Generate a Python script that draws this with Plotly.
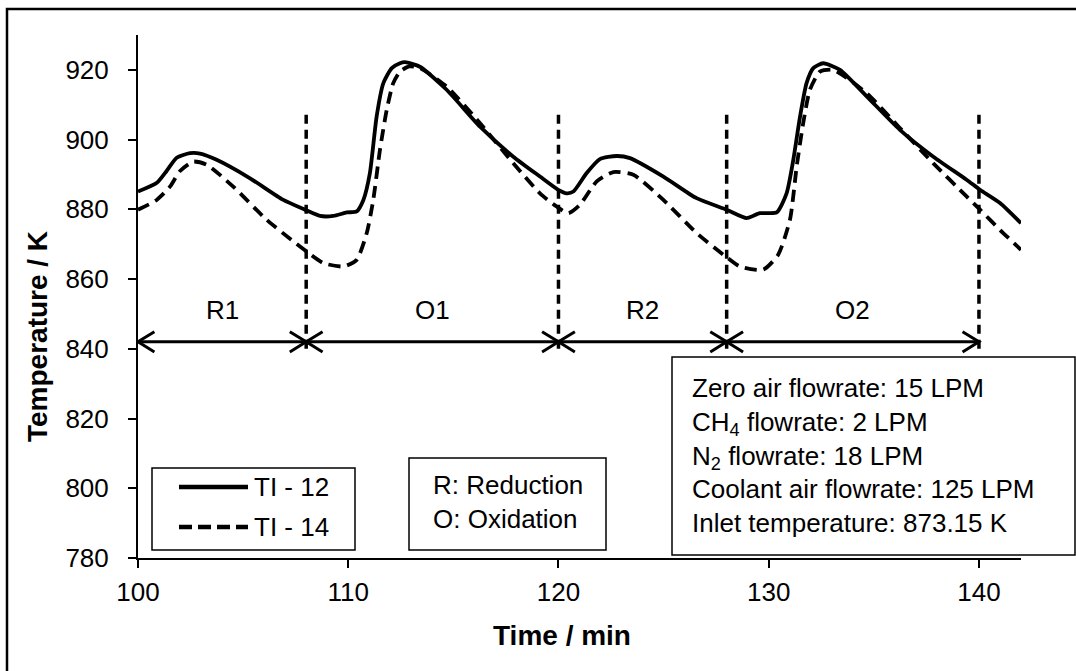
import plotly.graph_objects as go

# ---------------- data ----------------
time_ti12 = [100.0, 100.9, 101.36, 101.84, 102.47, 102.95, 103.74, 105.33, 106.91, 107.94,
             108.66, 109.29, 109.93, 110.40, 110.72, 111.03, 111.35, 111.67, 112.07, 112.46,
             112.70, 113.41, 114.68, 116.27, 117.85, 119.12, 119.99, 120.39, 120.71, 121.34,
             121.97, 122.77, 123.40, 124.99, 126.57, 128.0, 128.95, 129.58, 130.38, 130.85,
             131.17, 131.49, 131.80, 132.12, 132.59, 133.39, 134.66, 136.24, 137.83, 139.41,
             140.05, 141.0, 142.0]
temp_ti12 = [885.1, 887.6, 891.0, 894.8, 896.1, 896.0, 894.2, 888.9, 882.7, 879.9,
             878.1, 878.1, 879.1, 879.4, 882.7, 890.4, 906.6, 916.2, 920.5, 921.9,
             922.2, 920.9, 914.3, 903.7, 895.1, 889.4, 885.6, 884.6, 885.1, 890.4,
             894.4, 895.3, 894.7, 889.4, 883.2, 879.9, 877.5, 878.9, 879.1, 884.6,
             894.2, 906.6, 916.2, 920.5, 921.9, 920.0, 912.4, 902.8, 895.1, 888.5,
             885.6, 881.8, 876.0]

time_ti14 = [100.0, 100.89, 101.52, 102.0, 102.63, 103.27, 104.53, 106.12, 107.39, 108.02,
             108.81, 109.77, 110.40, 110.88, 111.19, 111.51, 111.83, 112.14, 112.46, 112.9,
             113.41, 114.68, 116.27, 117.85, 119.12, 119.91, 120.47, 121.02, 121.82, 122.61,
             123.56, 124.99, 126.57, 127.84, 128.63, 129.74, 130.45, 131.01, 131.33, 131.64,
             131.96, 132.44, 133.07, 134.66, 136.24, 137.83, 139.41, 140.05, 141.0, 142.0]
temp_ti14 = [879.9, 882.7, 886.5, 891.0, 893.7, 892.8, 886.5, 877.0, 870.8, 867.9,
             864.6, 863.6, 865.5, 873.2, 882.7, 897.1, 908.5, 916.2, 919.5, 921.0,
             920.5, 915.2, 904.7, 893.2, 884.6, 880.8, 878.9, 881.3, 888.0, 890.7,
             889.9, 882.7, 873.2, 867.0, 863.6, 862.7, 867.0, 877.0, 892.3, 904.7,
             914.3, 919.5, 920.0, 913.3, 903.3, 893.2, 883.7, 879.9, 874.1, 868.4]

phase_bounds = [100, 108, 120, 128, 140]
phase_labels = ["R1", "O1", "R2", "O2"]
series_names = ["TI - 12", "TI - 14"]
x_ticks = [100, 110, 120, 130, 140]
y_ticks = [780, 800, 820, 840, 860, 880, 900, 920]
conditions = ["Zero air flowrate: 15 LPM",
              "CH<sub>4</sub> flowrate: 2 LPM",
              "N<sub>2</sub> flowrate: 18 LPM",
              "Coolant air flowrate: 125 LPM",
              "Inlet temperature: 873.15 K"]
phase_key = ["R: Reduction", "O: Oxidation"]

# ---------------- layout constants ----------------
W, H = 1076, 671
ML, MR, MT, MB = 138, 55, 35, 113
PW, PH = W - ML - MR, H - MT - MB
X_RANGE = [100, 142]
Y_RANGE = [780, 930]
FONT = "Liberation Sans, Arial, sans-serif"
ARROW_Y = 842
LABEL_Y = 851
VLINE_Y = [840, 908]
HEAD_DX = 0.78   # chevron length in minutes
HEAD_DY = 2.9    # chevron half-height in K


def px(xp):
    return (xp - ML) / PW


def py(yp):
    return (H - MB - yp) / PH


fig = go.Figure()

# curves
fig.add_trace(go.Scatter(x=time_ti12, y=temp_ti12, mode="lines", name=series_names[0],
                         line=dict(color="black", width=3.8, shape="spline", smoothing=0.6),
                         showlegend=False))
fig.add_trace(go.Scatter(x=time_ti14, y=temp_ti14, mode="lines", name=series_names[1],
                         line=dict(color="black", width=3.8, dash="12px,7px",
                                   shape="spline", smoothing=0.6),
                         showlegend=False))

# phase boundaries (dashed verticals)
vx, vy = [], []
for b in phase_bounds[1:]:
    vx += [b, b, None]
    vy += [VLINE_Y[0], VLINE_Y[1], None]
fig.add_trace(go.Scatter(x=vx, y=vy, mode="lines", showlegend=False, hoverinfo="skip",
                         line=dict(color="black", width=3.5, dash="9px,6px")))

# double-headed arrows with open chevrons
ax, ay = [], []
for x0, x1 in zip(phase_bounds[:-1], phase_bounds[1:]):
    ax += [x0, x1, None]
    ay += [ARROW_Y, ARROW_Y, None]
    ax += [x0 + HEAD_DX, x0, x0 + HEAD_DX, None]
    ay += [ARROW_Y + HEAD_DY, ARROW_Y, ARROW_Y - HEAD_DY, None]
    ax += [x1 - HEAD_DX, x1, x1 - HEAD_DX, None]
    ay += [ARROW_Y + HEAD_DY, ARROW_Y, ARROW_Y - HEAD_DY, None]
fig.add_trace(go.Scatter(x=ax, y=ay, mode="lines", showlegend=False, hoverinfo="skip",
                         line=dict(color="black", width=3)))

shapes = []
annotations = []

# phase labels
for a, b, lab in zip(phase_bounds[:-1], phase_bounds[1:], phase_labels):
    annotations.append(dict(xref="x", yref="y", x=(a + b) / 2, y=LABEL_Y, text=lab,
                            showarrow=False, xanchor="center", yanchor="middle",
                            font=dict(family=FONT, size=26, color="black")))

# outer frame (cropped at right/bottom)
shapes.append(dict(type="rect", xref="paper", yref="paper",
                   x0=px(7), x1=px(1110), y0=py(9), y1=py(700),
                   line=dict(color="black", width=2.5), fillcolor="rgba(0,0,0,0)", layer="below"))

# custom legend
shapes.append(dict(type="rect", xref="paper", yref="paper",
                   x0=px(152), x1=px(355), y0=py(550), y1=py(468),
                   line=dict(color="black", width=1.5), fillcolor="white"))
for i, (yy, dash) in enumerate([(487, "solid"), (527, "13px,6px")]):
    shapes.append(dict(type="line", xref="paper", yref="paper",
                       x0=px(179), x1=px(248), y0=py(yy), y1=py(yy),
                       line=dict(color="black", width=4.5, dash=dash)))
    annotations.append(dict(xref="paper", yref="paper", x=px(252), y=py(yy),
                            xanchor="left", yanchor="middle", showarrow=False,
                            text=series_names[i], font=dict(family=FONT, size=26, color="black")))

# R/O key box
shapes.append(dict(type="rect", xref="paper", yref="paper",
                   x0=px(409), x1=px(606), y0=py(550), y1=py(458),
                   line=dict(color="black", width=1.5), fillcolor="white"))
annotations.append(dict(xref="paper", yref="paper", x=px(431), y=py(502),
                        xanchor="left", yanchor="middle", align="left", showarrow=False,
                        text="<br>".join(phase_key),
                        font=dict(family=FONT, size=26, color="black")))

# conditions box
shapes.append(dict(type="rect", xref="paper", yref="paper",
                   x0=px(672), x1=px(1075), y0=py(555), y1=py(357),
                   line=dict(color="black", width=1.5), fillcolor="white"))
annotations.append(dict(xref="paper", yref="paper", x=px(690), y=py(455),
                        xanchor="left", yanchor="middle", align="left", showarrow=False,
                        text="<br>".join(conditions),
                        font=dict(family=FONT, size=26, color="black")))

# axis titles
annotations.append(dict(xref="paper", yref="paper", x=px(562), y=py(635),
                        xanchor="center", yanchor="middle", showarrow=False,
                        text="<b>Time / min</b>", font=dict(family=FONT, size=28, color="black")))
annotations.append(dict(xref="paper", yref="paper", x=px(37), y=py(337),
                        xanchor="center", yanchor="middle", showarrow=False, textangle=-90,
                        text="<b>Temperature / K</b>", font=dict(family=FONT, size=28, color="black")))

fig.update_layout(
    width=W, height=H,
    margin=dict(l=ML, r=MR, t=MT, b=MB, pad=0),
    paper_bgcolor="white", plot_bgcolor="white",
    showlegend=False,
    shapes=shapes, annotations=annotations,
    xaxis=dict(range=X_RANGE, tickvals=x_ticks, showgrid=False, zeroline=False,
               showline=True, linecolor="black", linewidth=2,
               ticks="outside", ticklen=8, tickwidth=2, tickcolor="black",
               ticklabelstandoff=2,
               tickfont=dict(family=FONT, size=26, color="black")),
    yaxis=dict(range=Y_RANGE, tickvals=y_ticks, showgrid=False, zeroline=False,
               showline=True, linecolor="black", linewidth=2,
               ticks="outside", ticklen=8, tickwidth=2, tickcolor="black",
               ticklabelstandoff=14,
               tickfont=dict(family=FONT, size=26, color="black")),
)

fig.write_html("out.html")
